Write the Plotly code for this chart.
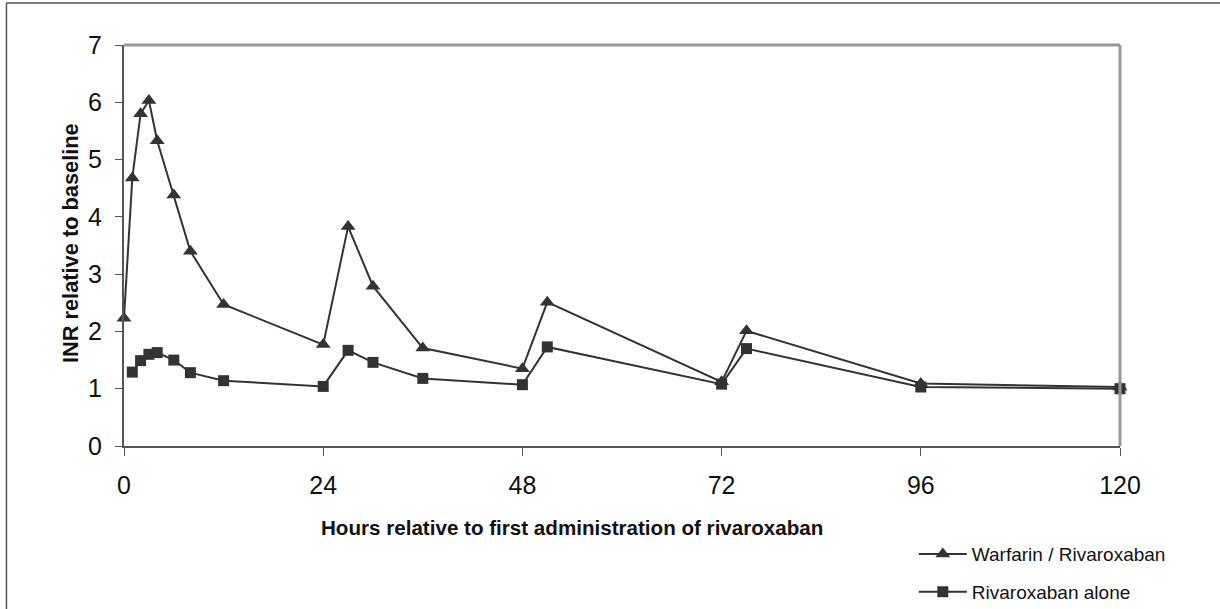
import plotly.graph_objects as go

hours_warfarin = [0, 1, 2, 3, 4, 6, 8, 12, 24, 27, 30, 36, 48, 51, 72, 75, 96, 120]
inr_warfarin = [2.23, 4.68, 5.8, 6.03, 5.33, 4.38, 3.4, 2.47, 1.77, 3.83, 2.79, 1.71, 1.35, 2.51, 1.12, 2.01, 1.09, 1.03]

hours_riva = [1, 2, 3, 4, 6, 8, 12, 24, 27, 30, 36, 48, 51, 72, 75, 96, 120]
inr_riva = [1.29, 1.49, 1.6, 1.63, 1.5, 1.28, 1.14, 1.04, 1.67, 1.46, 1.18, 1.07, 1.73, 1.08, 1.7, 1.03, 1.0]

x_ticks = [0, 24, 48, 72, 96, 120]
y_ticks = [0, 1, 2, 3, 4, 5, 6, 7]

series_names = ["Warfarin / Rivaroxaban", "Rivaroxaban alone"]
x_title = "Hours relative to first administration of rivaroxaban"
y_title = "INR relative to baseline"

dark = "#333333"
font_family = "Liberation Sans, Arial, sans-serif"

fig = go.Figure()
fig.add_trace(go.Scatter(
    x=hours_warfarin, y=inr_warfarin, name=series_names[0], mode="lines+markers",
    line=dict(color=dark, width=2),
    marker=dict(symbol="triangle-up", size=13, color=dark),
    cliponaxis=False, legendgroup="a",
))
fig.add_trace(go.Scatter(
    x=hours_riva, y=inr_riva, name=series_names[1], mode="lines+markers",
    line=dict(color=dark, width=2),
    marker=dict(symbol="square", size=11, color=dark),
    cliponaxis=False, legendgroup="b",
))

fig.update_layout(
    width=1220, height=609,
    margin=dict(l=124, r=100, t=45, b=163, autoexpand=False),
    paper_bgcolor="white", plot_bgcolor="white",
    font=dict(family=font_family, color="#111111"),
    showlegend=True,
    legend=dict(
        x=0.793, y=-0.2225, xanchor="left", yanchor="top",
        font=dict(size=19, color="#111111"),
        bgcolor="rgba(0,0,0,0)", tracegroupgap=10,
        traceorder="grouped", itemwidth=48,
    ),
    xaxis=dict(
        range=[0, 120], tickvals=x_ticks, ticks="outside", ticklen=8, tickcolor="#555555",
        showline=True, linecolor="#555555", linewidth=2, showgrid=False, zeroline=False,
        tickfont=dict(size=25, color="#111111"), ticklabelstandoff=8,
    ),
    yaxis=dict(
        range=[0, 7], tickvals=y_ticks, ticks="outside", ticklen=7, tickcolor="#555555",
        showline=True, linecolor="#555555", linewidth=2, showgrid=False, zeroline=False,
        tickfont=dict(size=25, color="#111111"), ticklabelstandoff=8,
    ),
    annotations=[
        dict(text="<b>" + x_title + "</b>", xref="paper", yref="paper", x=0.4498, y=-0.202,
             xanchor="center", yanchor="middle", showarrow=False,
             font=dict(size=20.6, color="#111111")),
        dict(text="<b>" + y_title + "</b>", xref="paper", yref="paper", x=-0.0542, y=0.506,
             xanchor="center", yanchor="middle", showarrow=False, textangle=-90,
             font=dict(size=21.8, color="#111111")),
    ],
    shapes=[
        # plot-area top/right border (light gray)
        dict(type="line", xref="paper", yref="paper", x0=0, x1=1, y0=1, y1=1,
             line=dict(color="#999999", width=3)),
        dict(type="line", xref="paper", yref="paper", x0=1, x1=1, y0=0, y1=1,
             line=dict(color="#999999", width=3)),
        # outer frame (top and left edges)
        dict(type="line", xref="paper", yref="paper", x0=-0.118, x1=1.2, y0=1.1047, y1=1.1047,
             line=dict(color="#555555", width=1.5)),
        dict(type="line", xref="paper", yref="paper", x0=-0.118, x1=-0.118, y0=-0.45, y1=1.1047,
             line=dict(color="#555555", width=1.5)),
    ],
)

fig.write_html("out.html", config={"displayModeBar": False},
               post_script="document.body.style.margin='0px';")
